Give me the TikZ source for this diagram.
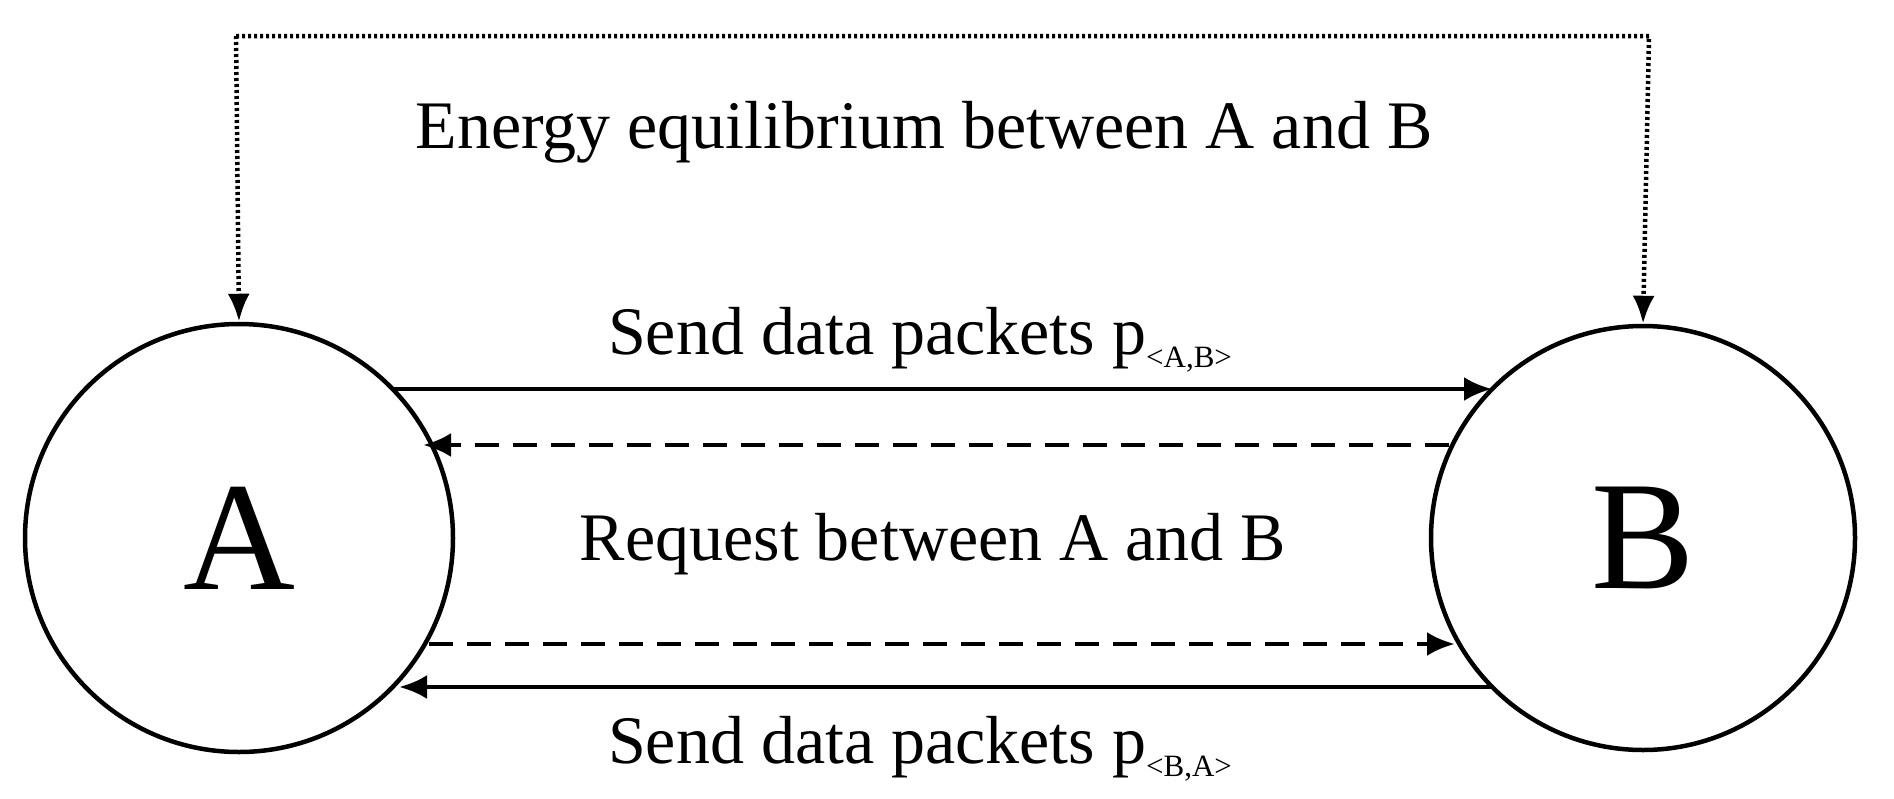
\documentclass[tikz,border=0pt]{standalone}
\usepackage{fontspec}
\setmainfont{Liberation Serif}
\usetikzlibrary{arrows.meta}
\newcommand{\subtx}[1]{\raisebox{-0.2em}{\fontsize{31}{31}\selectfont #1}}
\begin{document}
\begin{tikzpicture}[x=1pt,y=-1pt,
  lbl/.style={font=\fontsize{68}{68}\selectfont,anchor=base,inner sep=0pt},
  conn/.style={line width=4.5pt,-{Latex[length=28pt,width=24pt]}},
  dsh/.style={conn,dash pattern=on 24pt off 14pt},
  dot/.style={line width=4.5pt,dash pattern=on 3pt off 3pt,-{Latex[length=28pt,width=22pt]}}]
\useasboundingbox (0,0) rectangle (1894,798);
\node[draw,line width=4.5pt,circle,minimum size=428pt,inner sep=0pt] (A) at (239,538) {};
\node[draw,line width=4.5pt,circle,minimum size=424pt,inner sep=0pt] (B) at (1643,538) {};
\node[font=\fontsize{155}{155}\selectfont] (la) at (A.center) {A};
\node[font=\fontsize{155}{155}\selectfont] (lb) at (B.center) {B};
\coordinate (d1) at (236,36);
\coordinate (d2) at (1649,36);
\draw[dot] (d1) -- (d2) -- (B.north);
\draw[dot] (d1) -- (A.north);
\node[lbl] (t1) at (924,148) {Energy equilibrium between A and B};
\node[lbl] (t2) at (920,354) {Send data packets p\subtx{<A,B>}};
\node[lbl] (t3) at (933,560) {Request between A and B};
\node[lbl] (t4) at (920,763) {Send data packets p\subtx{<B,A>}};
\coordinate (s1) at (393,389); \coordinate (e1) at (1492,389);
\coordinate (s2) at (1449,445); \coordinate (e2) at (423,445);
\coordinate (s3) at (429,644); \coordinate (e3) at (1455,644);
\coordinate (s4) at (1492,687); \coordinate (e4) at (399,687);
\draw[conn] (s1) -- (e1);
\draw[dsh] (s2) -- (e2);
\draw[dsh] (s3) -- (e3);
\draw[conn] (s4) -- (e4);
\end{tikzpicture}
\end{document}
